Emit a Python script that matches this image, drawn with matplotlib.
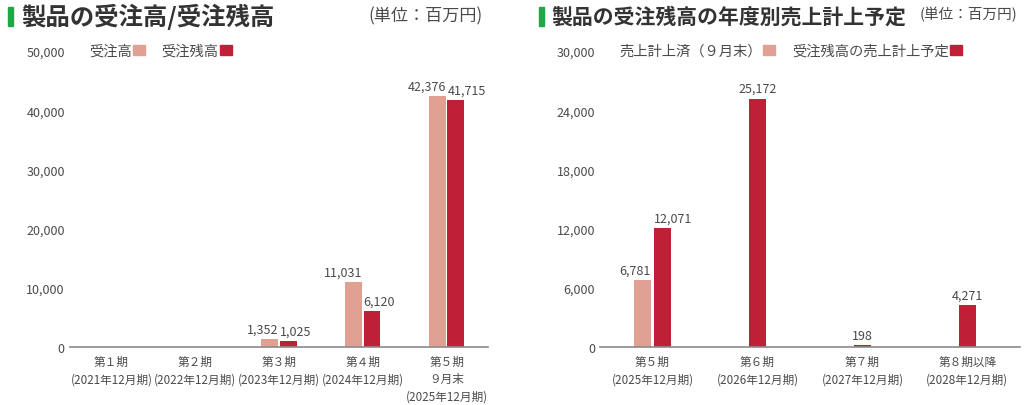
import matplotlib.pyplot as plt
from matplotlib.patches import Patch, Rectangle

plt.rcParams['font.family'] = ['Noto Sans CJK JP', 'DejaVu Sans']

LIGHT = '#e0a092'
DARK = '#c01f38'
GREEN = '#22a64a'
TXT = '#4a4a4a'

# left chart data
left_cats = ['第１期\n(2021年12月期)', '第２期\n(2022年12月期)', '第３期\n(2023年12月期)',
             '第４期\n(2024年12月期)', '第５期\n９月末\n(2025年12月期)']
orders = [0, 0, 1352, 11031, 42376]
backlog = [0, 0, 1025, 6120, 41715]
left_ticks = [0, 10000, 20000, 30000, 40000, 50000]

# right chart data
right_cats = ['第５期\n(2025年12月期)', '第６期\n(2026年12月期)',
              '第７期\n(2027年12月期)', '第８期以降\n(2028年12月期)']
recorded = [6781, 0, 0, 0]
planned = [12071, 25172, 198, 4271]
right_ticks = [0, 6000, 12000, 18000, 24000, 30000]

fig = plt.figure(figsize=(10.24, 4.06), dpi=100)


def draw_panel(ax, cats, s1, s2, ticks, width, off, names):
    for i in range(len(cats)):
        both = s1[i] > 0 and s2[i] > 0
        for v, c, sgn in ((s1[i], LIGHT, -1), (s2[i], DARK, 1)):
            if v <= 0:
                continue
            x = i + (sgn * off if both else 0)
            ax.bar(x, v, width=width, color=c, zorder=2)
            if both:
                # light label hugs the bar's right edge, dark label its left edge
                lx = x + width / 2 if sgn < 0 else x - width / 2
                ha = 'right' if sgn < 0 else 'left'
            else:
                lx, ha = x, 'center'
            ax.annotate(f'{v:,}', (lx, v), xytext=(0, 2.5), textcoords='offset points',
                        ha=ha, va='bottom', fontsize=9, color=TXT)
    ax.set_xlim(-0.5, len(cats) - 0.5)
    ax.set_ylim(0, ticks[-1])
    ax.set_yticks(ticks)
    ax.set_yticklabels([f'{t:,}' for t in ticks], fontsize=9)
    ax.set_xticks(range(len(cats)))
    ax.set_xticklabels(cats, fontsize=8.4, color=TXT, linespacing=1.45)
    ax.tick_params(axis='both', length=0, colors=TXT)
    ax.tick_params(axis='y', pad=3.5)
    ax.tick_params(axis='x', pad=5.5)
    for s in ('top', 'right', 'left'):
        ax.spines[s].set_visible(False)
    ax.spines['bottom'].set_color('#8a8a8a')
    ax.spines['bottom'].set_linewidth(1.2)
    ax.spines['bottom'].set_zorder(3)
    handles = [Patch(color=LIGHT, label=names[0]), Patch(color=DARK, label=names[1])]
    ax.legend(handles=handles, loc='center left', bbox_to_anchor=(0.046, 1.0), ncol=2,
              frameon=False, markerfirst=False, fontsize=10.3, handlelength=0.8,
              handleheight=0.8, handletextpad=0.1, columnspacing=1.2,
              borderaxespad=0, borderpad=0, labelcolor=TXT)


ax1 = fig.add_axes([0.068, 0.143, 0.409, 0.729])
draw_panel(ax1, left_cats, orders, backlog, left_ticks, 0.2, 0.11, ['受注高', '受注残高'])

ax2 = fig.add_axes([0.586, 0.143, 0.41, 0.729])
draw_panel(ax2, right_cats, recorded, planned, right_ticks, 0.16, 0.095,
           ['売上計上済（９月末）', '受注残高の売上計上予定'])

# titles
fig.patches.append(Rectangle((8 / 1024, 1 - 27 / 406), 5 / 1024, 19 / 406,
                             transform=fig.transFigure, color=GREEN))
fig.patches.append(Rectangle((539 / 1024, 1 - 27 / 406), 5 / 1024, 19 / 406,
                             transform=fig.transFigure, color=GREEN))
fig.text(21 / 1024, 1 - 17 / 406, '製品の受注高/受注残高', fontsize=17.6, fontweight='bold',
         color='#333333', va='center', ha='left')
fig.text(551 / 1024, 1 - 17 / 406, '製品の受注残高の年度別売上計上予定', fontsize=15,
         fontweight='bold', color='#333333', va='center', ha='left')
fig.text(368 / 1024, 1 - 16 / 406, '(単位：百万円)', fontsize=12.3, color=TXT,
         va='center', ha='left')
fig.text(1017 / 1024, 1 - 15 / 406, '(単位：百万円)', fontsize=10.5, color=TXT,
         va='center', ha='right')

fig.savefig('out.png', dpi=100, facecolor='white')
